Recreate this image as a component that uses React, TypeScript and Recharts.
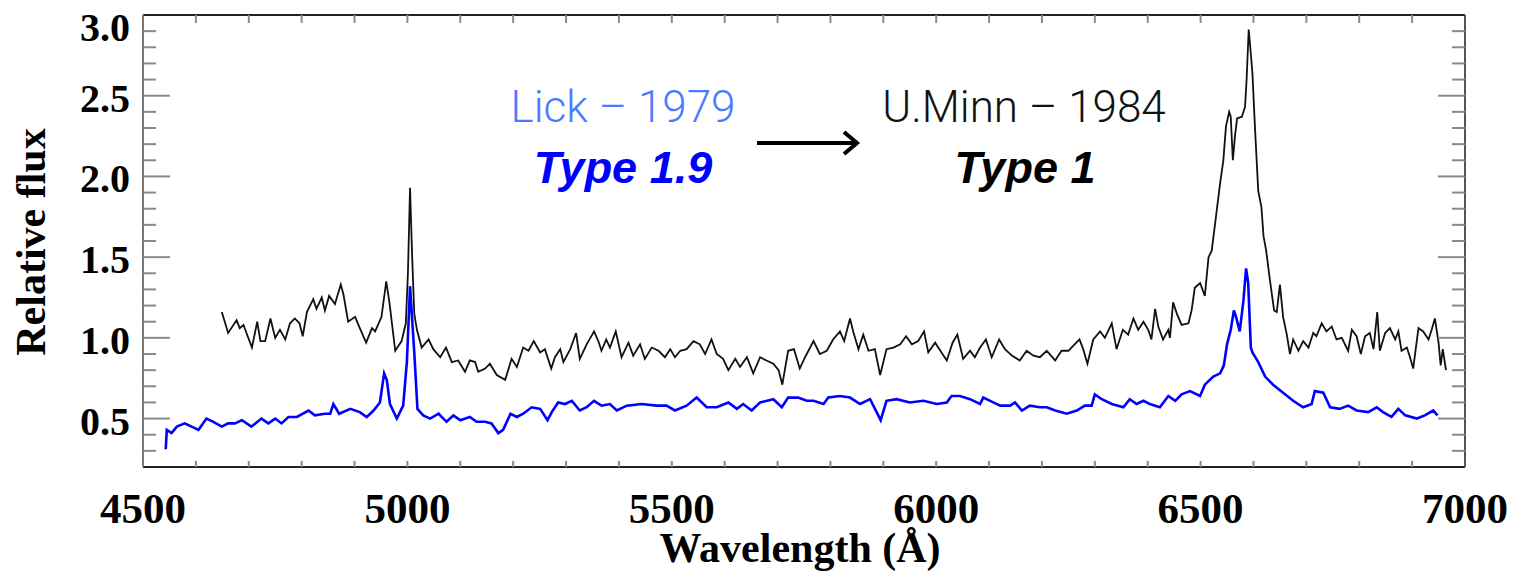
import React from 'react';
import { LineChart, Line, XAxis, YAxis } from 'recharts';

// Lick 1979 spectrum (blue), wavelength in Å and relative flux
const lickWave = [
  4543, 4545, 4554, 4564, 4579, 4592, 4605, 4620, 4633, 4649, 4661, 4674, 4687, 4705, 4724, 4737, 4750, 4762, 4775, 4791,
  4813, 4825, 4844, 4854, 4860, 4871, 4892, 4910, 4923, 4936, 4948, 4956, 4961, 4967, 4980, 4992, 4999, 5005, 5013, 5019,
  5030, 5043, 5059, 5074, 5087, 5100, 5118, 5131, 5147, 5159, 5172, 5181, 5195, 5207, 5219, 5235, 5251, 5265, 5273, 5285,
  5298, 5311, 5326, 5339, 5353, 5367, 5383, 5396, 5415, 5443, 5471, 5490, 5506, 5528, 5547, 5566, 5585, 5607, 5623, 5635,
  5651, 5667, 5692, 5708, 5720, 5739, 5755, 5768, 5787, 5796, 5818, 5837, 5856, 5875, 5895, 5906, 5925, 5950, 5976, 6001,
  6020, 6029, 6045, 6064, 6083, 6089, 6102, 6121, 6140, 6149, 6162, 6177, 6196, 6209, 6225, 6247, 6266, 6281, 6294, 6300,
  6313, 6332, 6354, 6366, 6379, 6392, 6404, 6423, 6439, 6452, 6464, 6480, 6499, 6508, 6524, 6537, 6544, 6550, 6557, 6563,
  6567, 6574, 6581, 6586, 6590, 6595, 6598, 6609, 6622, 6637, 6656, 6675, 6694, 6710, 6716, 6732, 6745, 6763, 6779, 6795,
  6817, 6833, 6845, 6861, 6874, 6887, 6909, 6924, 6940, 6948,
];
const lickFlux = [
  0.31, 0.43, 0.41, 0.45, 0.47, 0.45, 0.43, 0.50, 0.48, 0.45, 0.47, 0.47, 0.49, 0.45, 0.50, 0.47, 0.50, 0.47, 0.51, 0.51,
  0.55, 0.52, 0.53, 0.53, 0.59, 0.53, 0.56, 0.54, 0.51, 0.55, 0.60, 0.78, 0.74, 0.59, 0.50, 0.58, 0.85, 1.32, 0.91, 0.56,
  0.52, 0.50, 0.53, 0.48, 0.52, 0.49, 0.51, 0.48, 0.48, 0.47, 0.41, 0.43, 0.53, 0.51, 0.53, 0.57, 0.56, 0.49, 0.54, 0.60,
  0.59, 0.61, 0.55, 0.57, 0.61, 0.58, 0.59, 0.55, 0.58, 0.59, 0.58, 0.58, 0.55, 0.58, 0.63, 0.57, 0.57, 0.60, 0.56, 0.59,
  0.55, 0.60, 0.62, 0.57, 0.63, 0.63, 0.61, 0.61, 0.59, 0.63, 0.64, 0.63, 0.59, 0.62, 0.49, 0.61, 0.62, 0.60, 0.61, 0.59,
  0.60, 0.64, 0.64, 0.62, 0.59, 0.63, 0.61, 0.58, 0.58, 0.60, 0.55, 0.58, 0.57, 0.57, 0.55, 0.53, 0.55, 0.58, 0.58, 0.65,
  0.62, 0.59, 0.57, 0.62, 0.59, 0.61, 0.59, 0.57, 0.64, 0.61, 0.65, 0.67, 0.64, 0.71, 0.76, 0.78, 0.83, 0.96, 1.05, 1.17,
  1.13, 1.04, 1.23, 1.43, 1.34, 0.94, 0.91, 0.85, 0.76, 0.71, 0.66, 0.61, 0.57, 0.59, 0.67, 0.66, 0.57, 0.56, 0.58, 0.55,
  0.54, 0.57, 0.54, 0.51, 0.56, 0.52, 0.50, 0.52, 0.55, 0.52,
];

// U.Minn 1984 spectrum (black)
const minnWave = [
  4649, 4661, 4677, 4683, 4690, 4706, 4716, 4722, 4731, 4741, 4750, 4759, 4769, 4778, 4787, 4796, 4802, 4810, 4822, 4828,
  4838, 4844, 4852, 4863, 4874, 4879, 4888, 4901, 4910, 4922, 4933, 4939, 4951, 4960, 4966, 4977, 4989, 4997, 5001, 5005,
  5009, 5013, 5018, 5027, 5040, 5049, 5062, 5073, 5084, 5096, 5109, 5118, 5128, 5134, 5147, 5156, 5169, 5185, 5197, 5207,
  5219, 5229, 5239, 5251, 5260, 5272, 5279, 5289, 5295, 5308, 5319, 5326, 5339, 5353, 5361, 5367, 5376, 5383, 5394, 5405,
  5418, 5427, 5440, 5449, 5462, 5475, 5487, 5497, 5506, 5516, 5528, 5541, 5553, 5563, 5575, 5585, 5597, 5607, 5620, 5629,
  5642, 5654, 5667, 5679, 5692, 5702, 5709, 5720, 5731, 5742, 5752, 5768, 5780, 5793, 5805, 5818, 5826, 5837, 5843, 5853,
  5862, 5872, 5884, 5894, 5906, 5919, 5932, 5943, 5954, 5966, 5977, 5985, 5998, 6010, 6020, 6031, 6040, 6051, 6064, 6073,
  6083, 6094, 6105, 6119, 6130, 6143, 6158, 6171, 6184, 6196, 6209, 6225, 6237, 6250, 6259, 6271, 6278, 6286, 6297, 6310,
  6319, 6332, 6341, 6353, 6363, 6373, 6382, 6392, 6401, 6407, 6414, 6420, 6429, 6439, 6442, 6448, 6455, 6464, 6477, 6483,
  6489, 6499, 6508, 6515, 6521, 6529, 6537, 6543, 6548, 6554, 6557, 6561, 6565, 6569, 6578, 6584, 6587, 6591, 6595, 6598,
  6603, 6609, 6615, 6619, 6624, 6631, 6639, 6644, 6650, 6656, 6663, 6669, 6675, 6685, 6694, 6704, 6713, 6719, 6729, 6738,
  6748, 6757, 6767, 6779, 6786, 6795, 6803, 6811, 6820, 6827, 6834, 6839, 6849, 6858, 6868, 6874, 6880, 6890, 6896, 6902,
  6912, 6921, 6931, 6937, 6943, 6950, 6954, 6958, 6964,
];
const minnFlux = [
  1.16, 1.03, 1.11, 1.06, 1.08, 0.94, 1.10, 0.98, 0.98, 1.12, 1.00, 1.05, 0.99, 1.09, 1.12, 1.09, 1.01, 1.16, 1.24, 1.18,
  1.25, 1.17, 1.26, 1.21, 1.33, 1.27, 1.10, 1.13, 1.06, 0.97, 1.06, 1.04, 1.13, 1.35, 1.22, 0.92, 0.98, 1.09, 1.40, 1.93,
  1.50, 1.15, 1.05, 0.94, 0.99, 0.93, 0.88, 0.94, 0.85, 0.86, 0.79, 0.86, 0.85, 0.79, 0.81, 0.84, 0.77, 0.74, 0.87, 0.82,
  0.94, 0.92, 0.98, 0.91, 0.93, 0.81, 0.88, 0.93, 0.85, 0.93, 1.03, 0.87, 0.96, 1.04, 0.98, 0.92, 0.99, 0.94, 1.04, 0.88,
  0.97, 0.89, 0.96, 0.87, 0.94, 0.92, 0.88, 0.93, 0.88, 0.92, 0.93, 0.98, 0.96, 0.90, 0.99, 0.90, 0.87, 0.80, 0.87, 0.82,
  0.88, 0.78, 0.88, 0.86, 0.84, 0.80, 0.71, 0.92, 0.93, 0.81, 0.88, 0.98, 0.90, 0.92, 0.99, 1.04, 0.98, 1.12, 1.04, 0.93,
  1.02, 0.92, 0.93, 0.77, 0.93, 0.94, 0.96, 1.01, 0.96, 0.98, 1.04, 0.91, 0.97, 0.91, 0.86, 0.97, 1.02, 0.87, 0.92, 0.88,
  0.94, 0.99, 0.88, 0.99, 0.93, 0.89, 0.86, 0.92, 0.89, 0.88, 0.92, 0.86, 0.92, 0.92, 0.95, 0.99, 0.93, 0.84, 0.99, 1.04,
  1.00, 1.09, 0.93, 1.05, 1.02, 1.12, 1.05, 1.10, 1.05, 0.99, 1.18, 1.07, 0.99, 1.05, 1.00, 1.22, 1.15, 1.08, 1.09, 1.17,
  1.31, 1.34, 1.26, 1.50, 1.54, 1.75, 1.96, 2.10, 2.31, 2.40, 2.37, 2.10, 2.25, 2.36, 2.37, 2.43, 2.60, 2.91, 2.76, 2.64,
  2.29, 1.91, 1.81, 1.63, 1.54, 1.36, 1.17, 1.16, 1.33, 1.13, 1.02, 0.90, 0.99, 0.92, 0.98, 0.94, 1.03, 1.01, 1.09, 1.04,
  1.07, 0.99, 1.00, 0.92, 1.05, 1.01, 0.90, 1.01, 1.03, 0.93, 1.16, 0.92, 1.03, 1.06, 0.99, 1.04, 0.92, 0.94, 0.88, 0.81,
  1.06, 1.04, 0.99, 1.05, 1.12, 0.97, 0.83, 0.93, 0.80,
];

const xTicks = [
  4500, 4600, 4700, 4800, 4900, 5000, 5100, 5200, 5300, 5400, 5500, 5600, 5700, 5800, 5900,
  6000, 6100, 6200, 6300, 6400, 6500, 6600, 6700, 6800, 6900, 7000,
];
const xLabels = [4500, 5000, 5500, 6000, 6500, 7000];
const yTicks = [
  0.2, 0.3, 0.4, 0.5, 0.6, 0.7, 0.8, 0.9, 1.0, 1.1, 1.2, 1.3, 1.4, 1.5, 1.6, 1.7, 1.8, 1.9,
  2.0, 2.1, 2.2, 2.3, 2.4, 2.5, 2.6, 2.7, 2.8, 2.9, 3.0,
];
const yLabels = [0.5, 1.0, 1.5, 2.0, 2.5, 3.0];

const lickData = lickWave.map((w, i) => ({ w, f: lickFlux[i] }));
const minnData = minnWave.map((w, i) => ({ w, f: minnFlux[i] }));

const SERIF = '"Liberation Serif", "Times New Roman", serif';
const TICK_GRAY = '#8a8a8a';

const isMajorY = (v: number) => yLabels.some((l) => Math.abs(l - v) < 1e-6);

const BottomTick = (props: any) => {
  const { x, y, payload } = props;
  const v = payload.value;
  const inner = v === 4500 || v === 7000;
  return (
    <g>
      {!inner && <line x1={x} y1={y} x2={x} y2={y - 6} stroke={TICK_GRAY} strokeWidth={2} />}
      {xLabels.includes(v) && (
        <text x={x} y={y + 56} textAnchor="middle" fontFamily={SERIF} fontWeight="bold" fontSize={43} fill="#000">
          {v}
        </text>
      )}
    </g>
  );
};

const TopTick = (props: any) => {
  const { x, y, payload } = props;
  if (payload.value === 4500 || payload.value === 7000) return <g />;
  return <line x1={x} y1={y} x2={x} y2={y + 8} stroke={TICK_GRAY} strokeWidth={2} />;
};

const LeftTick = (props: any) => {
  const { x, y, payload } = props;
  const v = payload.value;
  const major = isMajorY(v);
  const edge = v < 0.25 || v > 2.95;
  return (
    <g>
      {!edge && <line x1={x} y1={y} x2={x + (major ? 27 : 13)} y2={y} stroke={TICK_GRAY} strokeWidth={2} />}
      {major && (
        <text
          x={x - 13}
          y={y + (v > 2.95 ? 26 : 16)}
          textAnchor="end"
          fontFamily={SERIF}
          fontWeight="bold"
          fontSize={40}
          fill="#000"
        >
          {v.toFixed(1)}
        </text>
      )}
    </g>
  );
};

const RightTick = (props: any) => {
  const { x, y, payload } = props;
  const v = payload.value;
  if (v < 0.25 || v > 2.95) return <g />;
  const major = isMajorY(v);
  return <line x1={x} y1={y} x2={x - (major ? 27 : 13)} y2={y} stroke={TICK_GRAY} strokeWidth={2} />;
};

export default function App() {
  return (
    <div style={{ position: 'absolute', left: 0, top: 0, width: 1513, height: 577, background: '#fff' }}>
      <LineChart width={1513} height={577} margin={{ top: 0, right: 0, bottom: 0, left: 0 }}>
        <XAxis
          xAxisId="b"
          type="number"
          dataKey="w"
          domain={[4500, 7000]}
          ticks={xTicks}
          allowDataOverflow
          height={110}
          axisLine={{ stroke: '#222', strokeWidth: 2 }}
          tickLine={false}
          tickSize={0}
          tickMargin={0}
          tick={<BottomTick />}
          interval={0}
        />
        <XAxis
          xAxisId="t"
          orientation="top"
          type="number"
          dataKey="w"
          domain={[4500, 7000]}
          ticks={xTicks}
          allowDataOverflow
          height={15}
          axisLine={{ stroke: '#222', strokeWidth: 2 }}
          tickLine={false}
          tickSize={0}
          tickMargin={0}
          tick={<TopTick />}
          interval={0}
        />
        <YAxis
          yAxisId="l"
          type="number"
          domain={[0.2, 3.0]}
          ticks={yTicks}
          allowDataOverflow
          width={143}
          axisLine={{ stroke: '#777', strokeWidth: 2 }}
          tickLine={false}
          tickSize={0}
          tickMargin={0}
          tick={<LeftTick />}
          interval={0}
        />
        <YAxis
          yAxisId="r"
          orientation="right"
          type="number"
          domain={[0.2, 3.0]}
          ticks={yTicks}
          allowDataOverflow
          width={48}
          axisLine={{ stroke: '#555', strokeWidth: 2 }}
          tickLine={false}
          tickSize={0}
          tickMargin={0}
          tick={<RightTick />}
          interval={0}
        />
        <Line
          xAxisId="b"
          yAxisId="l"
          data={lickData}
          dataKey="f"
          type="linear"
          stroke="#0000ff"
          strokeWidth={2.6}
          dot={false}
          isAnimationActive={false}
        />
        <Line
          xAxisId="b"
          yAxisId="l"
          data={minnData}
          dataKey="f"
          type="linear"
          stroke="#111"
          strokeWidth={1.8}
          dot={false}
          isAnimationActive={false}
        />
      </LineChart>

      {/* annotations and axis titles */}
      <svg width={1513} height={577} style={{ position: 'absolute', left: 0, top: 0, pointerEvents: 'none' }}>
        <text x={800} y={562} textAnchor="middle" fontFamily={SERIF} fontWeight="bold" fontSize={42} fill="#000">
          Wavelength (Å)
        </text>
        <text
          x={45}
          y={242}
          transform="rotate(-90 45 242)"
          textAnchor="middle"
          fontFamily={SERIF}
          fontWeight="bold"
          fontSize={42}
          fill="#000"
        >
          Relative flux
        </text>
        <text x={623} y={122} textAnchor="middle" fontFamily="Roboto, sans-serif" fontWeight={300} fontSize={44} fill="#4d79ff">
          Lick – 1979
        </text>
        <text
          x={623}
          y={183}
          textAnchor="middle"
          fontFamily='"Liberation Sans", Arial, sans-serif'
          fontWeight="bold"
          fontStyle="italic"
          fontSize={45}
          fill="#0000ff"
        >
          Type 1.9
        </text>
        <text x={1024} y={122} textAnchor="middle" fontFamily="Roboto, sans-serif" fontWeight={300} fontSize={44} fill="#111">
          U.Minn – 1984
        </text>
        <text
          x={1025}
          y={183}
          textAnchor="middle"
          fontFamily='"Liberation Sans", Arial, sans-serif'
          fontWeight="bold"
          fontStyle="italic"
          fontSize={45}
          fill="#000"
        >
          Type 1
        </text>
        <line x1={757} y1={143} x2={855} y2={143} stroke="#000" strokeWidth={4} />
        <polyline points="844,132 857,143 844,154" fill="none" stroke="#000" strokeWidth={4} />
      </svg>
    </div>
  );
}
